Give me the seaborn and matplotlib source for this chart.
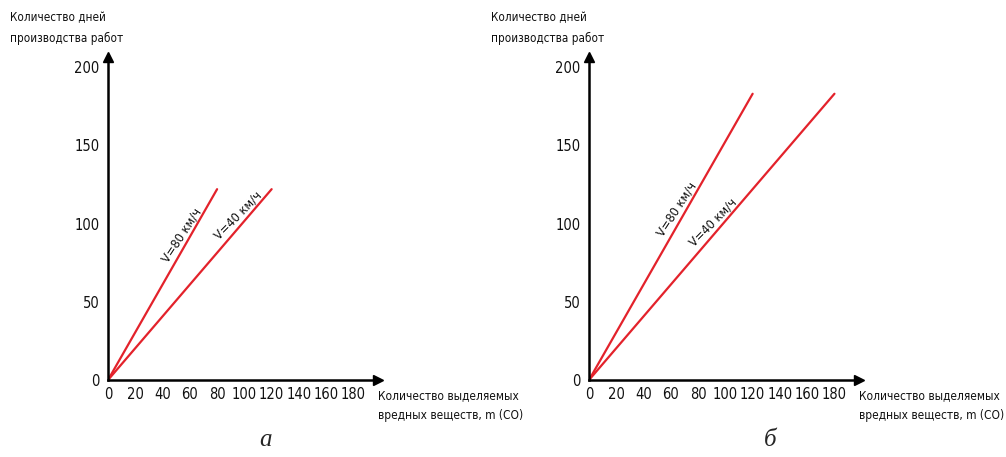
import numpy as np
import pandas as pd
import seaborn as sns
import matplotlib
matplotlib.use("Agg")
import matplotlib.pyplot as plt

sns.set_theme(style="white")
plt.rcParams["font.family"] = ["DejaVu Sans"]
plt.rcParams["font.stretch"] = "condensed"

# ---- data ----
speeds = ["V=80 км/ч", "V=40 км/ч"]
panel_a_x_end = [80, 120]
panel_a_y_end = [122, 122]
panel_b_x_end = [120, 180]
panel_b_y_end = [183, 183]
x_ticklabels = [0, 20, 40, 60, 80, 100, 120, 140, 160, 180]
y_ticklabels = [0, 50, 100, 150, 200]
panel_letters = ["а", "б"]
x_title = "Количество выделяемых\nвредных веществ, m (CO)"
y_title = "Количество дней\nпроизводства работ"

W, H = 1006, 457
fig = plt.figure(figsize=(W / 100, H / 100), dpi=100)

def px_axes(x0, y0, x1, y1):
    return fig.add_axes([x0 / W, 1 - y0 / H, (x1 - x0) / W, (y0 - y1) / H])

panels = [
    dict(ax=px_axes(108, 380, 378, 57), xe=panel_a_x_end, ye=panel_a_y_end,
         lab_x=[58, 99], xt=(378, 406), yt=(10, 28), letter=(265, 440)),
    dict(ax=px_axes(589, 380, 859, 57), xe=panel_b_x_end, ye=panel_b_y_end,
         lab_x=[68.7, 94.6], xt=(859, 406), yt=(491, 28), letter=(770, 440)),
]

red = "#e3222b"
for i, p in enumerate(panels):
    ax = p["ax"]
    rows = []
    for s, xe, ye in zip(speeds, p["xe"], p["ye"]):
        rows.append((s, 0, 0))
        rows.append((s, xe, ye))
    df = pd.DataFrame(rows, columns=["speed", "m", "days"])
    sns.lineplot(data=df, x="m", y="days", hue="speed", palette=[red, red],
                 ax=ax, legend=False, linewidth=1.6, estimator=None, sort=False)
    ax.set_xlim(0, 198)
    ax.set_ylim(0, 206.5)
    ax.set_xlabel("")
    ax.set_ylabel("")
    for sp in ["top", "right"]:
        ax.spines[sp].set_visible(False)
    for sp in ["left", "bottom"]:
        ax.spines[sp].set_linewidth(1.8)
        ax.spines[sp].set_color("black")
    ax.set_xticks(np.arange(10, 200, 10), minor=True)
    ax.set_xticks(x_ticklabels)
    ax.set_xticklabels([str(v) for v in x_ticklabels])
    ax.set_yticks(np.arange(10, 201, 10), minor=True)
    ax.set_yticks(y_ticklabels)
    ax.set_yticklabels([str(v) for v in y_ticklabels])
    ax.tick_params(which="both", direction="inout", length=8, width=1.5, color="black")
    ax.tick_params(axis="x", which="major", pad=1, labelsize=10.5)
    ax.tick_params(axis="y", which="major", pad=2, labelsize=10.5)
    ax.tick_params(axis="both", which="major", labelcolor="#111111")
    # arrows
    ax.plot([1], [0], marker=">", color="black", markersize=7, transform=ax.transAxes, clip_on=False)
    ax.plot([0], [1], marker="^", color="black", markersize=7, transform=ax.transAxes, clip_on=False)
    # line labels
    for s, xe, ye, lx in zip(speeds, p["xe"], p["ye"], p["lab_x"]):
        ang = np.degrees(np.arctan2(ye, xe))
        ax.annotate(s, xy=(lx, lx * ye / xe), xytext=(0, 2), textcoords="offset points",
                    ha="center", va="bottom", rotation=ang, rotation_mode="anchor",
                    transform_rotates_text=True, fontsize=9.2, color="#111111")
    fig.text(p["xt"][0] / W, 1 - p["xt"][1] / H, x_title, ha="left", va="center",
             fontsize=8.6, linespacing=1.7, color="#111111")
    fig.text(p["yt"][0] / W, 1 - p["yt"][1] / H, y_title, ha="left", va="center",
             fontsize=8.4, linespacing=1.75, color="#111111")
    fig.text(p["letter"][0] / W, 1 - p["letter"][1] / H, panel_letters[i], ha="center",
             va="center", fontsize=18, family=["Liberation Serif", "DejaVu Serif"],
             style="italic", stretch="normal")

fig.savefig("out.png", dpi=100)
